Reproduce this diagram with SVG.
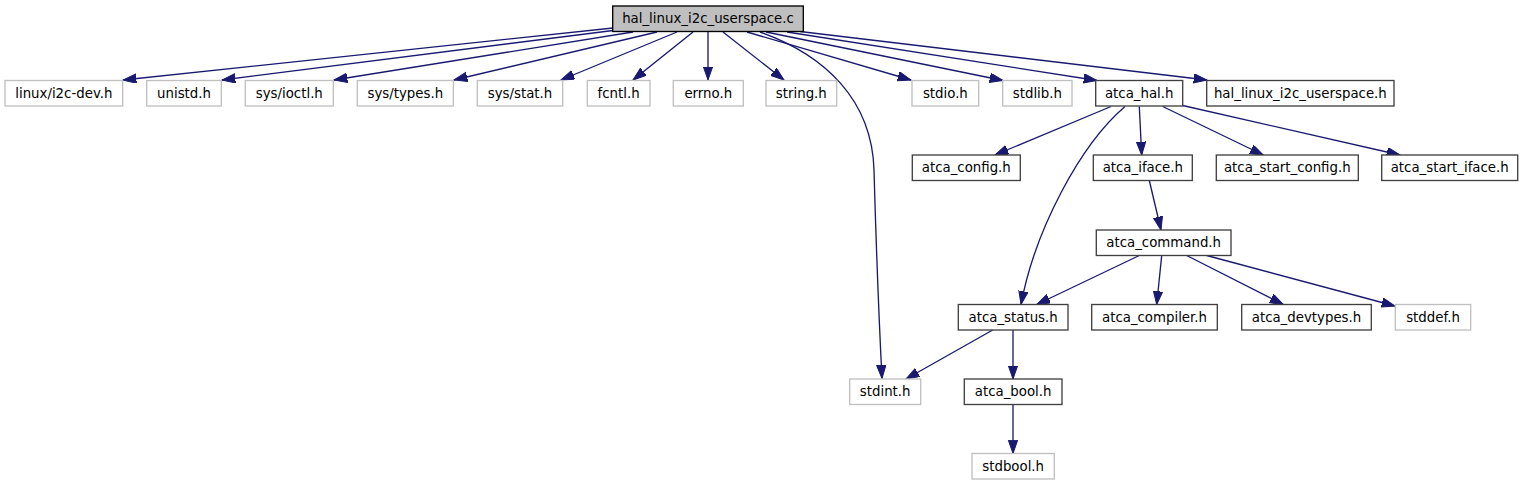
<svg xmlns="http://www.w3.org/2000/svg" width="1536" height="485" viewBox="0 0 1536 485">
<style>
.n rect{fill:#fff;stroke:#404040;stroke-width:1.33}
.x rect{fill:#fff;stroke:#bfbfbf;stroke-width:1.33}
.m rect{fill:#bfbfbf;stroke:#000;stroke-width:1.33}
text{font-family:"DejaVu Sans",sans-serif;font-size:13.33px;fill:#000;text-anchor:middle}
.e path{fill:none;stroke:#191970;stroke-width:1.33}
</style>
<defs>
<marker id="a" markerUnits="userSpaceOnUse" markerWidth="15" markerHeight="11" refX="13.3" refY="4.67" orient="auto">
<path d="M0,0 L13.3,4.67 L0,9.33 z" fill="#191970" stroke="#191970" stroke-width="1"/>
</marker>
</defs>
<rect width="1536" height="485" fill="#fff"/>
<g class="e" id="edges">
<path marker-end="url(#a)" d="M613,28 L123,80"/>
<path marker-end="url(#a)" d="M613,30.5 L222,80"/>
<path marker-end="url(#a)" d="M633,32 L334,80"/>
<path marker-end="url(#a)" d="M657,32 L454,80"/>
<path marker-end="url(#a)" d="M677,32 L561,80"/>
<path marker-end="url(#a)" d="M693,32 L633,80"/>
<path marker-end="url(#a)" d="M708,32 L708,80"/>
<path marker-end="url(#a)" d="M723,32 L784,80"/>
<path marker-end="url(#a)" d="M747,32 L911,80"/>
<path marker-end="url(#a)" d="M766,32 L1003,80.5"/>
<path marker-end="url(#a)" d="M787,32 L1097,80.5"/>
<path marker-end="url(#a)" d="M800,31.5 L1207,80"/>
<path marker-end="url(#a)" d="M760,32 C825,55 872,100 874,170 C876,240 879,320 882,378.5"/>
<path marker-end="url(#a)" d="M1111,106.5 L995,155"/>
<path marker-end="url(#a)" d="M1139.3,106.5 L1141.7,155"/>
<path marker-end="url(#a)" d="M1162.7,106.5 L1263.3,155"/>
<path marker-end="url(#a)" d="M1182.7,105.5 L1400,155"/>
<path marker-end="url(#a)" d="M1125,106.5 C1080,145 1035,230 1021,304.5"/>
<path marker-end="url(#a)" d="M1149.3,180.5 L1161,230"/>
<path marker-end="url(#a)" d="M1139.3,255.5 L1036.7,304.5"/>
<path marker-end="url(#a)" d="M1161.7,255.5 L1156.7,304.5"/>
<path marker-end="url(#a)" d="M1186.7,255.5 L1283.3,304.5"/>
<path marker-end="url(#a)" d="M1206.7,255.5 L1395,306"/>
<path marker-end="url(#a)" d="M992.7,330 L906,379"/>
<path marker-end="url(#a)" d="M1013,330 L1013,379"/>
<path marker-end="url(#a)" d="M1013,404.5 L1013,453.5"/>
</g>
<g id="main" class="m"><rect x="612.7" y="6" width="190.6" height="25.5"/><text x="708" y="23.3">hal_linux_i2c_userspace.c</text></g>
<g id="linux_i2c_dev" class="x"><rect x="5" y="80.5" width="117.7" height="25.5"/><text x="63.85" y="97.8">linux/i2c-dev.h</text></g>
<g id="unistd" class="x"><rect x="146.7" y="80.5" width="74.6" height="25.5"/><text x="184" y="97.8">unistd.h</text></g>
<g id="sys_ioctl" class="x"><rect x="245.3" y="80.5" width="88" height="25.5"/><text x="289.3" y="97.8">sys/ioctl.h</text></g>
<g id="sys_types" class="x"><rect x="357.3" y="80.5" width="96" height="25.5"/><text x="405.3" y="97.8">sys/types.h</text></g>
<g id="sys_stat" class="x"><rect x="477.3" y="80.5" width="85.4" height="25.5"/><text x="520" y="97.8">sys/stat.h</text></g>
<g id="fcntl" class="x"><rect x="587.3" y="80.5" width="62.7" height="25.5"/><text x="618.65" y="97.8">fcntl.h</text></g>
<g id="errno" class="x"><rect x="673.3" y="80.5" width="70" height="25.5"/><text x="708.3" y="97.8">errno.h</text></g>
<g id="string" class="x"><rect x="766" y="80.5" width="70.7" height="25.5"/><text x="801.35" y="97.8">string.h</text></g>
<g id="stdio" class="x"><rect x="912" y="80.5" width="66.7" height="25.5"/><text x="945.35" y="97.8">stdio.h</text></g>
<g id="stdlib" class="x"><rect x="1002.7" y="80.5" width="69.3" height="25.5"/><text x="1037.35" y="97.8">stdlib.h</text></g>
<g id="atca_hal" class="n"><rect x="1095.7" y="80.5" width="87" height="25.5"/><text x="1139.2" y="97.8">atca_hal.h</text></g>
<g id="hal_linux_h" class="n"><rect x="1206.7" y="80.5" width="187.3" height="25.5"/><text x="1300.35" y="97.8">hal_linux_i2c_userspace.h</text></g>
<g id="atca_config" class="n"><rect x="912.3" y="155" width="108" height="25.5"/><text x="966.3" y="172.3">atca_config.h</text></g>
<g id="atca_iface" class="n"><rect x="1093.3" y="155" width="99" height="25.5"/><text x="1142.8" y="172.3">atca_iface.h</text></g>
<g id="atca_start_config" class="n"><rect x="1216.3" y="155" width="142" height="25.5"/><text x="1287.3" y="172.3">atca_start_config.h</text></g>
<g id="atca_start_iface" class="n"><rect x="1381.7" y="155" width="136" height="25.5"/><text x="1449.7" y="172.3">atca_start_iface.h</text></g>
<g id="atca_command" class="n"><rect x="1096.3" y="230" width="134.7" height="25.5"/><text x="1163.65" y="247.3">atca_command.h</text></g>
<g id="atca_status" class="n"><rect x="958.3" y="304.5" width="109.7" height="25.5"/><text x="1013.15" y="321.8">atca_status.h</text></g>
<g id="atca_compiler" class="n"><rect x="1091.7" y="304.5" width="125.6" height="25.5"/><text x="1154.5" y="321.8">atca_compiler.h</text></g>
<g id="atca_devtypes" class="n"><rect x="1241.7" y="304.5" width="129.6" height="25.5"/><text x="1306.5" y="321.8">atca_devtypes.h</text></g>
<g id="stddef" class="x"><rect x="1395.3" y="304.5" width="75.4" height="25.5"/><text x="1433" y="321.8">stddef.h</text></g>
<g id="stdint" class="x"><rect x="849.7" y="379" width="71" height="25.5"/><text x="885.2" y="396.3">stdint.h</text></g>
<g id="atca_bool" class="n"><rect x="964.3" y="379" width="97.7" height="25.5"/><text x="1013.15" y="396.3">atca_bool.h</text></g>
<g id="stdbool" class="x"><rect x="972" y="453.5" width="82.3" height="25.5"/><text x="1013.15" y="470.8">stdbool.h</text></g>
</svg>
